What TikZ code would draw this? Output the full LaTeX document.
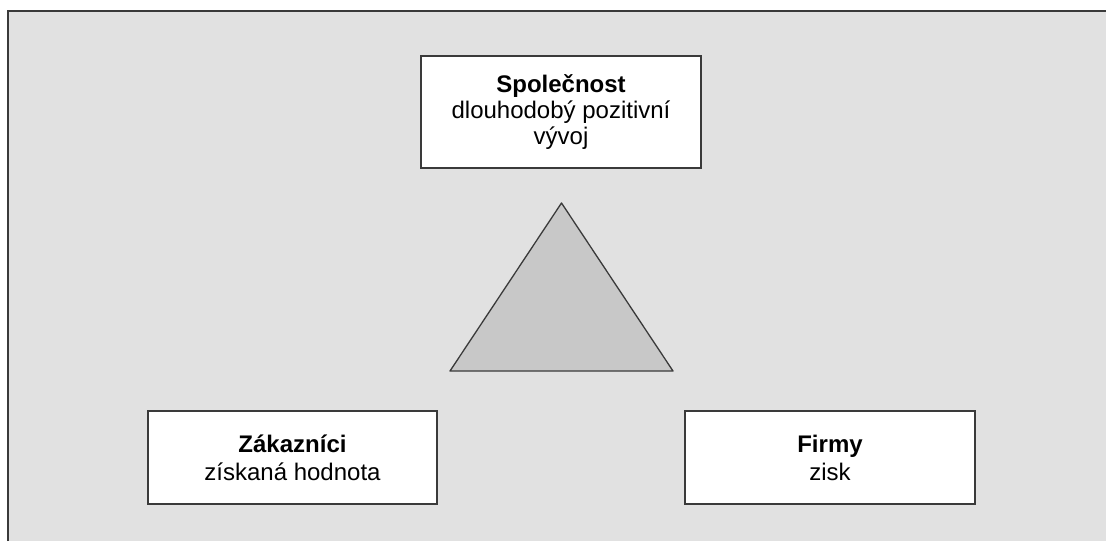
\documentclass[tikz,border=0pt]{standalone}
\usepackage{fontspec}
\setmainfont{Liberation Sans}
\definecolor{bggray}{HTML}{E1E1E1}
\definecolor{trigray}{HTML}{C8C8C8}
\definecolor{linegray}{HTML}{3A3A3A}
\tikzset{
  infobox/.style={draw=linegray, line width=1.3pt, fill=white, inner sep=0pt, align=center, font=\fontsize{24}{26}\selectfont},
  lowbox/.style={infobox, minimum height=93pt, font=\fontsize{24}{28}\selectfont}
}
\begin{document}
\begin{tikzpicture}[x=1pt,y=-1pt]
\useasboundingbox (0,0) rectangle (1106,541);
\fill[bggray] (8,11) rectangle (1106,541);
\draw[linegray, line width=2pt] (8,541) -- (8,11) -- (1106,11);
\node[infobox, minimum width=280pt, minimum height=112pt] (soc) at (561,112)
  {\textbf{Společnost}\\dlouhodobý pozitivní\\vývoj};
\node[lowbox, minimum width=289pt] (zak) at (292.5,457.5)
  {\textbf{Zákazníci}\\získaná hodnota};
\node[lowbox, minimum width=290pt] (firm) at (830,457.5)
  {\textbf{Firmy}\\zisk};
\coordinate (apex) at (561.5,203);
\coordinate (bl) at (450,371);
\coordinate (br) at (673,371);
\draw[linegray, line width=1.3pt, fill=trigray, line join=round] (apex) -- (bl) -- (br) -- cycle;
\end{tikzpicture}
\end{document}
